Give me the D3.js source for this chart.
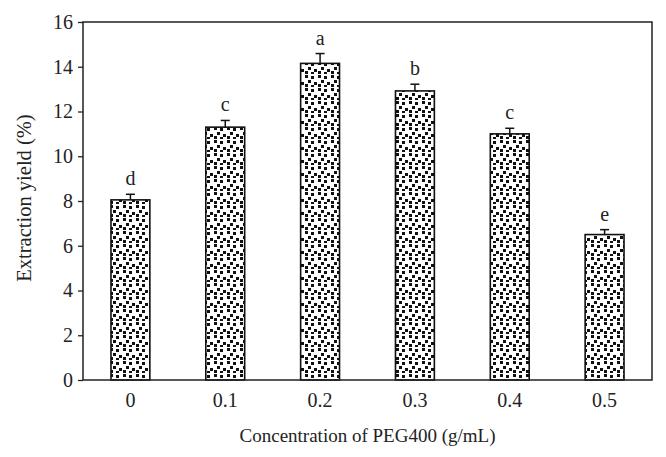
<!DOCTYPE html>
<html>
<head>
<meta charset="utf-8">
<script src="https://cdn.jsdelivr.net/npm/d3@7"></script>
<style>
  body { margin: 0; background: #fff; }
  text { font-family: "Liberation Serif", "DejaVu Serif", serif; fill: #222; }
</style>
</head>
<body>
<div id="chart"></div>
<script>
// data
const concentrations = ["0", "0.1", "0.2", "0.3", "0.4", "0.5"];
const yields = [8.05, 11.3, 14.15, 12.92, 11.0, 6.5];
const errors = [0.25, 0.3, 0.44, 0.3, 0.25, 0.22];
const letters = ["d", "c", "a", "b", "c", "e"];
const yTicks = [0, 2, 4, 6, 8, 10, 12, 14, 16];

const W = 666, H = 457;
const margin = { top: 22, right: 14, bottom: 77, left: 83 },
    width = W - margin.left - margin.right,
    height = H - margin.top - margin.bottom;

const svg = d3.select("#chart").append("svg")
    .attr("width", W)
    .attr("height", H);

// dotted fill like the original (irregular little squares)
const pat = svg.append("defs").append("pattern")
    .attr("id", "dots")
    .attr("patternUnits", "userSpaceOnUse")
    .attr("width", 13).attr("height", 13);
pat.append("rect").attr("width", 13).attr("height", 13).attr("fill", "#fff");
[[1, 1], [7, 2], [4, 6], [10, 8], [1, 10], [7, 11]].forEach(p => {
    pat.append("rect").attr("x", p[0]).attr("y", p[1]).attr("width", 3).attr("height", 3).attr("fill", "#111");
});

const g = svg.append("g")
    .attr("transform", "translate(" + margin.left + "," + margin.top + ")");

const x = d3.scaleBand().domain(concentrations).range([0, width]).paddingInner(0.59).paddingOuter(0.295);
const y = d3.scaleLinear().domain([0, 16]).range([height, 0]);

const data = concentrations.map((c, i) => ({ c: c, v: yields[i], e: errors[i], l: letters[i] }));

// bars
g.selectAll(".bar")
    .data(data)
    .enter().append("rect")
    .attr("class", "bar")
    .attr("x", d => x(d.c))
    .attr("y", d => y(d.v))
    .attr("width", x.bandwidth())
    .attr("height", d => height - y(d.v))
    .attr("fill", "url(#dots)")
    .attr("stroke", "#111")
    .attr("stroke-width", 1.6);

// error bars (upper only)
const eb = g.selectAll(".err").data(data).enter().append("g").attr("class", "err")
    .attr("stroke", "#111").attr("stroke-width", 1.5);
eb.append("line")
    .attr("x1", d => x(d.c) + x.bandwidth() / 2)
    .attr("x2", d => x(d.c) + x.bandwidth() / 2)
    .attr("y1", d => y(d.v))
    .attr("y2", d => y(d.v + d.e));
eb.append("line")
    .attr("x1", d => x(d.c) + x.bandwidth() / 2 - 4.5)
    .attr("x2", d => x(d.c) + x.bandwidth() / 2 + 4.5)
    .attr("y1", d => y(d.v + d.e))
    .attr("y2", d => y(d.v + d.e));

// significance letters
g.selectAll(".lbl").data(data).enter().append("text")
    .attr("x", d => x(d.c) + x.bandwidth() / 2)
    .attr("y", d => y(d.v + d.e) - 9)
    .attr("text-anchor", "middle")
    .attr("font-size", "20px")
    .text(d => d.l);

// frame
g.append("rect")
    .attr("width", width).attr("height", height)
    .attr("fill", "none").attr("stroke", "#222").attr("stroke-width", 1.5);

// y axis
const yAxis = g.append("g")
    .call(d3.axisLeft(y).tickValues(yTicks).tickSize(5).tickPadding(5));
yAxis.select(".domain").remove();
yAxis.selectAll("line").attr("stroke", "#222").attr("stroke-width", 1.3);
yAxis.selectAll("text").attr("font-size", "20px").attr("font-family", "Liberation Serif").attr("fill", "#222");

// x axis
const xAxis = g.append("g")
    .attr("transform", "translate(0," + height + ")")
    .call(d3.axisBottom(x).tickSize(0).tickPadding(13));
xAxis.select(".domain").remove();
xAxis.selectAll("text").attr("font-size", "20px").attr("font-family", "Liberation Serif").attr("fill", "#222");

// axis titles
svg.append("text")
    .attr("x", margin.left + width / 2)
    .attr("y", 442)
    .attr("text-anchor", "middle")
    .attr("font-size", "19px")
    .text("Concentration of PEG400 (g/mL)");

svg.append("text")
    .attr("transform", "translate(31,198) rotate(-90)")
    .attr("text-anchor", "middle")
    .attr("font-size", "20.5px")
    .text("Extraction yield (%)");
</script>
</body>
</html>
